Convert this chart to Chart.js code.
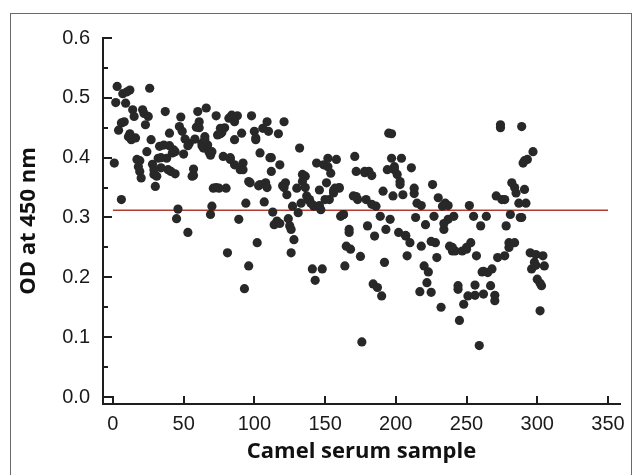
<!DOCTYPE html>
<html>
<head>
<meta charset="utf-8">
<script src="https://cdn.jsdelivr.net/npm/chart.js@4"></script>
<style>
    html, body { margin: 0; padding: 0; background: #fff; }
    #wrap { position: relative; width: 635px; height: 475px; }
    #frame { position: absolute; left: 10px; top: 13px; width: 620px; height: 470px; border: 1px solid #6a6a6a; pointer-events: none; }
</style>
</head>
<body>
<div id="wrap">
    <canvas id="odChart" width="635" height="475"></canvas>
    <div id="frame"></div>
</div>
<script>
// ====== Data ======
const sampleNo = [
    1, 3, 2, 4, 6, 6, 7, 9, 10, 12, 11, 13, 14, 15, 16, 17, 18, 19, 20, 21,
    22, 23, 24, 25, 26, 27, 28, 29, 30, 31, 32, 33, 34, 36, 37, 38, 39, 40, 41, 42,
    43, 44, 45, 46, 47, 48, 49, 50, 51, 53, 54, 56, 57, 58, 59, 60, 61, 63, 64, 65,
    66, 67, 68, 69, 69, 70, 71, 73, 74, 75, 76, 77, 78, 80, 81, 82, 83, 84, 86, 86,
    88, 89, 90, 91, 92, 93, 94, 96, 97, 98, 100, 101, 102, 103, 104, 106, 107, 108, 109, 110,
    111, 112, 113, 114, 116, 117, 118, 120, 121, 122, 123, 124, 125, 126, 127, 128, 130, 131, 132, 133,
    134, 136, 137, 138, 140, 141, 142, 143, 144, 146, 147, 148, 149, 151, 152, 153, 154, 156, 157, 158,
    160, 161, 163, 164, 165, 167, 168, 170, 171, 172, 173, 175, 176, 178, 179, 180, 181, 183, 184, 185,
    186, 187, 189, 190, 191, 192, 193, 194, 195, 196, 197, 198, 199, 201, 202, 203, 204, 205, 207, 208,
    210, 211, 213, 214, 215, 217, 218, 220, 221, 222, 223, 225, 226, 227, 228, 229, 230, 232, 233, 234,
    235, 237, 238, 240, 241, 242, 244, 245, 247, 248, 250, 251, 252, 253, 255, 256, 257, 259, 260, 261,
    262, 264, 265, 267, 268, 270, 271, 272, 274, 275, 277, 278, 280, 281, 282, 284, 285, 287, 288, 289,
    290, 291, 292, 293, 295, 296, 297, 298, 299, 300, 302, 303, 304, 305,
    8, 12, 19, 29, 34, 40, 44, 53, 57, 61, 63, 65, 70, 73, 76, 79, 83, 86, 92, 96,
    101, 104, 109, 112, 118, 121, 126, 134, 136, 139, 142, 146, 150, 152, 156, 160, 163, 167, 172, 178,
    183, 197, 199, 203, 207, 213, 218, 225, 234, 237, 240, 244, 250, 256, 262, 270, 274, 277, 280, 284,
    289, 291, 299, 302
];
const odValue = [
    0.391, 0.519, 0.492, 0.446, 0.330, 0.458, 0.507, 0.491, 0.510, 0.513, 0.435, 0.430, 0.480, 0.469, 0.433, 0.397, 0.385, 0.377, 0.366, 0.480,
    0.474, 0.455, 0.410, 0.469, 0.516, 0.430, 0.389, 0.372, 0.352, 0.369, 0.399, 0.419, 0.383, 0.421, 0.477, 0.399, 0.380, 0.441, 0.377, 0.408,
    0.413, 0.373, 0.298, 0.314, 0.452, 0.468, 0.444, 0.406, 0.431, 0.275, 0.424, 0.369, 0.381, 0.431, 0.451, 0.477, 0.460, 0.424, 0.416, 0.435,
    0.483, 0.421, 0.409, 0.404, 0.305, 0.319, 0.349, 0.470, 0.438, 0.349, 0.449, 0.442, 0.402, 0.349, 0.241, 0.466, 0.397, 0.471, 0.430, 0.388,
    0.470, 0.297, 0.380, 0.441, 0.391, 0.181, 0.324, 0.219, 0.358, 0.470, 0.444, 0.433, 0.258, 0.353, 0.408, 0.449, 0.326, 0.358, 0.460, 0.444,
    0.400, 0.377, 0.309, 0.288, 0.294, 0.440, 0.388, 0.353, 0.460, 0.358, 0.338, 0.298, 0.286, 0.241, 0.319, 0.263, 0.349, 0.308, 0.416, 0.324,
    0.372, 0.369, 0.336, 0.330, 0.324, 0.214, 0.319, 0.195, 0.391, 0.346, 0.313, 0.214, 0.388, 0.358, 0.399, 0.330, 0.374, 0.341, 0.349, 0.397,
    0.349, 0.302, 0.305, 0.219, 0.252, 0.275, 0.247, 0.336, 0.402, 0.377, 0.330, 0.235, 0.092, 0.377, 0.330, 0.286, 0.377, 0.322, 0.189, 0.269,
    0.319, 0.183, 0.302, 0.169, 0.344, 0.225, 0.280, 0.380, 0.441, 0.297, 0.399, 0.336, 0.380, 0.372, 0.275, 0.360, 0.399, 0.338, 0.269, 0.236,
    0.258, 0.383, 0.349, 0.300, 0.324, 0.176, 0.252, 0.219, 0.288, 0.191, 0.209, 0.175, 0.355, 0.302, 0.258, 0.233, 0.333, 0.150, 0.319, 0.280,
    0.324, 0.297, 0.252, 0.244, 0.302, 0.244, 0.186, 0.128, 0.244, 0.155, 0.247, 0.169, 0.320, 0.258, 0.302, 0.187, 0.236, 0.086, 0.286, 0.209,
    0.172, 0.302, 0.208, 0.186, 0.214, 0.161, 0.336, 0.233, 0.455, 0.330, 0.236, 0.286, 0.258, 0.305, 0.358, 0.258, 0.341, 0.324, 0.300, 0.452,
    0.391, 0.347, 0.324, 0.397, 0.241, 0.214, 0.410, 0.225, 0.238, 0.197, 0.144, 0.186, 0.236, 0.219,
    0.460, 0.440, 0.395, 0.380, 0.400, 0.420, 0.410, 0.420, 0.370, 0.450, 0.420, 0.430, 0.410, 0.350, 0.440, 0.450, 0.400, 0.460, 0.380, 0.360,
    0.430, 0.355, 0.350, 0.400, 0.290, 0.350, 0.280, 0.360, 0.350, 0.330, 0.320, 0.320, 0.330, 0.385, 0.345, 0.350, 0.305, 0.280, 0.335, 0.375,
    0.370, 0.440, 0.385, 0.355, 0.270, 0.340, 0.320, 0.260, 0.290, 0.320, 0.250, 0.180, 0.250, 0.170, 0.210, 0.170, 0.450, 0.330, 0.250, 0.350,
    0.300, 0.395, 0.220, 0.190
];

// cut-off line (red)
const cutoffX = [0, 350];
const cutoffOD = 0.312;

// axis ticks
const xTicks = [0, 50, 100, 150, 200, 250, 300, 350];
const yTicks = [0.0, 0.1, 0.2, 0.3, 0.4, 0.5, 0.6];
const yMinorTicks = [0.05, 0.15, 0.25, 0.35, 0.45, 0.55];

const AXIS_COLOR = '#1e1e1e';
const DOT_COLOR = '#282828';
const CUTOFF_COLOR = '#b23b30';

// ---- Inward tick marks (axis ticks point into the plot) ----
const inwardTicks = {
    id: 'inwardTicks',
    afterDraw(chart) {
        const {ctx, chartArea, scales: {x, y}} = chart;
        ctx.save();
        ctx.strokeStyle = AXIS_COLOR;
        ctx.lineWidth = 2;
        ctx.beginPath();
        xTicks.forEach(v => {
            const px = Math.round(x.getPixelForValue(v));
            ctx.moveTo(px, chartArea.bottom);
            ctx.lineTo(px, chartArea.bottom - 8);
        });
        yTicks.forEach(v => {
            const py = Math.round(y.getPixelForValue(v));
            ctx.moveTo(chartArea.left, py);
            ctx.lineTo(chartArea.left + 9, py);
        });
        yMinorTicks.forEach(v => {
            const py = Math.round(y.getPixelForValue(v));
            ctx.moveTo(chartArea.left, py);
            ctx.lineTo(chartArea.left + 5, py);
        });
        ctx.stroke();
        ctx.restore();
    }
};

const points = sampleNo.map((s, i) => ({x: s, y: odValue[i]}));
const cutoffLine = cutoffX.map(v => ({x: v, y: cutoffOD}));

new Chart(document.getElementById('odChart'), {
    type: 'scatter',
    data: {
        datasets: [{
                label: 'Camel sera',
                data: points,
                backgroundColor: DOT_COLOR,
                borderColor: DOT_COLOR,
                borderWidth: 0,
                pointRadius: 4.6,
                order: 1
            }, {
                type: 'line',
                label: 'Cut-off',
                data: cutoffLine,
                borderColor: CUTOFF_COLOR,
                borderWidth: 1.5,
                pointRadius: 0,
                fill: false,
                order: 2
            }]
    },
    options: {
        responsive: false,
        animation: false,
        events: [],
        layout: {padding: {left: 0, top: 38, right: 15, bottom: 0}},
        plugins: {legend: {display: false}, tooltip: {enabled: false}},
        scales: {
            x: {
                type: 'linear',
                min: -7,
                max: 358.5,
                afterBuildTicks: s => { s.ticks = xTicks.map(v => ({value: v})); },
                afterFit: s => { s.height = 71; },
                grid: {display: false, drawTicks: false},
                border: {display: true, color: AXIS_COLOR, width: 2},
                ticks: {
                    padding: 8,
                    color: '#1a1a1a',
                    font: {family: '"Liberation Sans", Arial, sans-serif', size: 20},
                    maxRotation: 0
                },
                title: {
                    display: true,
                    text: 'Camel serum sample',
                    color: '#111',
                    font: {family: '"Open Sans", sans-serif', size: 22, weight: 'bold'},
                    padding: {top: 0, bottom: 10}
                }
            },
            y: {
                type: 'linear',
                min: -0.0117,
                max: 0.6,
                afterBuildTicks: s => { s.ticks = yTicks.map(v => ({value: v})); },
                afterFit: s => { s.width = 103; },
                grid: {display: false, drawTicks: false},
                border: {display: true, color: AXIS_COLOR, width: 2},
                ticks: {
                    padding: 13,
                    color: '#1a1a1a',
                    font: {family: '"Liberation Sans", Arial, sans-serif', size: 20},
                    callback: v => Number(v).toFixed(1)
                },
                title: {
                    display: true,
                    text: 'OD at 450 nm',
                    color: '#111',
                    font: {family: '"Open Sans", sans-serif', size: 22, weight: 'bold'},
                    padding: {top: 16, bottom: 0}
                }
            }
        }
    },
    plugins: [inwardTicks]
});
</script>
</body>
</html>
